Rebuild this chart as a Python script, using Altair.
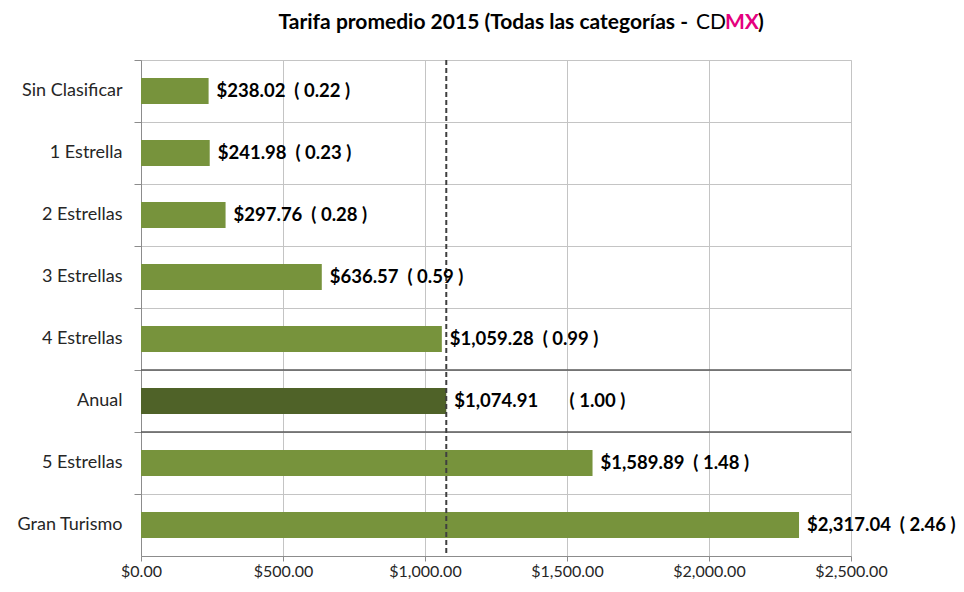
import altair as alt
import pandas as pd

categories = ["Sin Clasificar", "1 Estrella", "2 Estrellas", "3 Estrellas",
              "4 Estrellas", "Anual", "5 Estrellas", "Gran Turismo"]
tarifas = [238.02, 241.98, 297.76, 636.57, 1059.28, 1074.91, 1589.89, 2317.04]
indices = [0.22, 0.23, 0.28, 0.59, 0.99, 1.00, 1.48, 2.46]
x_ticks = [0, 500, 1000, 1500, 2000, 2500]
promedio = [1074.91]
separadores = ["Anual", "5 Estrellas"]

NB = "\u00a0"
df = pd.DataFrame({"cat": categories, "tarifa": tarifas, "indice": indices})
df["label"] = [
    f"${t:,.2f}" + (NB * 7 if c == "Anual" else NB * 2) + f"( {i:.2f} )"
    for c, t, i in zip(categories, tarifas, indices)
]
df_line = pd.DataFrame({"prom": promedio})
df_sep = pd.DataFrame({"cat": separadores})

FONT = "Lato"
yscale = alt.Scale(domain=categories, paddingInner=0, paddingOuter=0)
xscale = alt.Scale(domain=[0, 2500], nice=False)

base = alt.Chart(df)

bars = base.mark_bar(size=26).encode(
    y=alt.Y("cat:N", scale=yscale, title=None,
            axis=alt.Axis(bandPosition=0, grid=True, gridColor="#C4C4C4",
                          domainColor="#8C8C8C", tickColor="#8C8C8C", tickSize=7,
                          labelFont=FONT, labelFontSize=18, labelColor="#262626",
                          labelPadding=12)),
    x=alt.X("tarifa:Q", scale=xscale, title=None,
            axis=alt.Axis(values=x_ticks, format="$,.2f", grid=True,
                          gridColor="#C4C4C4", domainColor="#8C8C8C",
                          tickColor="#8C8C8C", tickSize=5, labelFlush=False,
                          labelFont=FONT, labelFontSize=16, labelColor="#262626",
                          labelPadding=2)),
    color=alt.condition(alt.datum.cat == "Anual", alt.value("#4F6228"), alt.value("#77933C")),
)

labels = base.mark_text(align="left", baseline="middle", dx=8, font=FONT,
                        fontSize=18.5, fontWeight="bold", color="#000000").encode(
    y=alt.Y("cat:N", scale=yscale),
    x=alt.X("tarifa:Q", scale=xscale),
    text="label:N",
)

seps = alt.Chart(df_sep).mark_rule(color="#5A5A5A", strokeWidth=1.5).encode(
    y=alt.Y("cat:N", scale=yscale, bandPosition=0),
)

vline = alt.Chart(df_line).mark_rule(color="#3F3F3F", strokeWidth=2,
                                     strokeDash=[5, 3]).encode(
    x=alt.X("prom:Q", scale=xscale),
)

title_pieces = [
    ("Tarifa promedio 2015 (Todas las categorías -", "right", 547, "bold", "#000000"),
    ("CD", "left", 555, "normal", "#000000"),
    ("MX", "left", 584, "bold", "#E5007E"),
    (")", "left", 617, "bold", "#000000"),
]
title_layers = [
    alt.Chart(df_line).mark_text(text=t, align=a, baseline="middle", font=FONT,
                                 fontSize=21, fontWeight=w, color=c).encode(
        x=alt.value(xp), y=alt.value(-37))
    for t, a, xp, w, c in title_pieces
]

chart = alt.layer(bars, seps, vline, labels, *title_layers).properties(
    width=710, height=496,
    autosize=alt.AutoSizeParams(type="none"),
    padding={"left": 133, "top": 52, "right": 105, "bottom": 26},
).configure_view(stroke=None).configure(background="white")

chart.save("out.html", embed_options={"renderer": "svg", "actions": False})
